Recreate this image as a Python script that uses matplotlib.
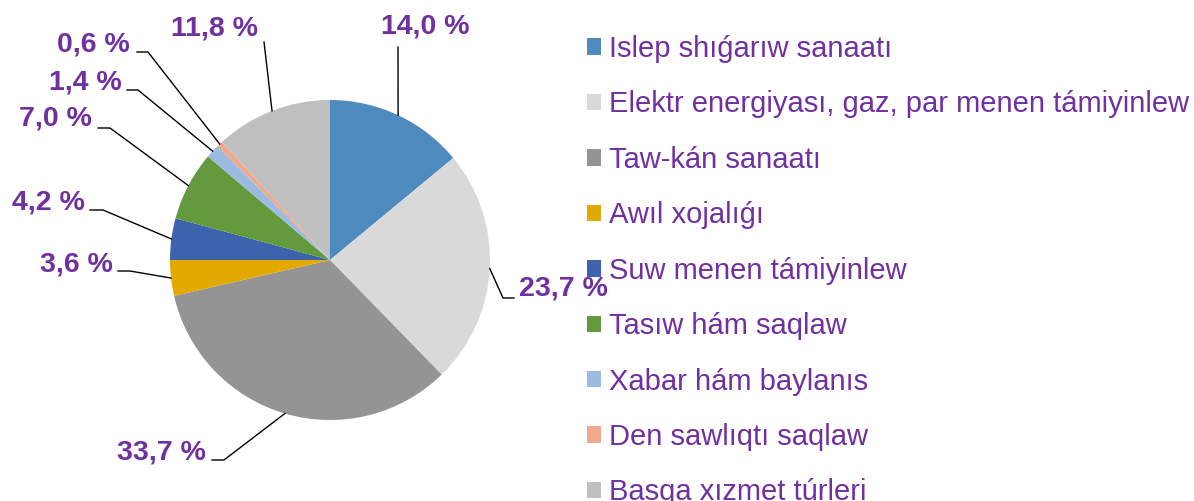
import numpy as np
import matplotlib.pyplot as plt

plt.rcParams['font.family'] = ['Liberation Sans', 'DejaVu Sans']

labels = ['Islep shıǵarıw sanaatı',
          'Elektr energiyası, gaz, par menen támiyinlew',
          'Taw-kán sanaatı',
          'Awıl xojalıǵı',
          'Suw menen támiyinlew',
          'Tasıw hám saqlaw',
          'Xabar hám baylanıs',
          'Den sawlıqtı saqlaw',
          'Basqa xızmet túrleri']
shares = [14.0, 23.7, 33.7, 3.6, 4.2, 7.0, 1.4, 0.6, 11.8]
pct_text = ['14,0 %', '23,7 %', '33,7 %', '3,6 %', '4,2 %', '7,0 %', '1,4 %', '0,6 %', '11,8 %']
colors = ['#4F8ABE', '#D9D9D9', '#949494', '#E2AA00', '#3C63AC',
          '#629A3D', '#9BBCE0', '#F1A98C', '#BFBFBF']
purple = '#7030A0'

W, H = 1194, 501
CX, CY, R = 330, 260, 160

fig = plt.figure(figsize=(W / 100, H / 100), dpi=100)
ax = fig.add_axes([0, 0, 1, 1])

wedges, _ = ax.pie(shares, colors=colors, startangle=90, counterclock=False,
                   radius=1, wedgeprops=dict(linewidth=0))
ax.set_xlim(-CX / R, (W - CX) / R)
ax.set_ylim(-(H - CY) / R, CY / R)
ax.set_aspect('equal')
ax.axis('off')


def px(x, y):
    # figure pixel -> data coords of the pie axes
    return (x - CX) / R, (CY - y) / R


# label placement in pixels: (text x, text y, ha, elbow point or None, line end)
place = [
    (425, 26, 'center', None, (398, 47)),
    (519, 289, 'left', (503, 298), (514, 298)),
    (206, 453, 'right', (224, 460), (212, 460)),
    (113, 264, 'right', (130, 271), (118, 271)),
    (85, 203, 'right', (103, 210), (90, 210)),
    (92, 119, 'right', (110, 128), (98, 128)),
    (122, 83, 'right', (138, 90), (127, 90)),
    (130, 44, 'right', (148, 52), (137, 52)),
    (215, 28, 'center', None, (264, 42)),
]

for w, txt, (tx, ty, ha, elbow, end) in zip(wedges, pct_text, place):
    ang = np.deg2rad((w.theta1 + w.theta2) / 2)
    xs = [np.cos(ang)]
    ys = [np.sin(ang)]
    if elbow is not None:
        ex, ey = px(*elbow)
        xs.append(ex)
        ys.append(ey)
    ex, ey = px(*end)
    xs.append(ex)
    ys.append(ey)
    ax.plot(xs, ys, color='black', lw=1, clip_on=False)
    x, y = px(tx, ty)
    ax.text(x, y, txt, ha=ha, va='center', fontsize=20.5, fontweight='bold',
            color=purple)

leg = fig.legend(wedges, labels, loc='upper left',
                 bbox_to_anchor=(587 / W, 1 - 35 / H),
                 frameon=False, fontsize=21, labelcolor=purple,
                 handlelength=0.49, handleheight=0.49, handletextpad=0.27,
                 labelspacing=0.94, borderpad=0, borderaxespad=0)

fig.savefig('out.png', dpi=100)
